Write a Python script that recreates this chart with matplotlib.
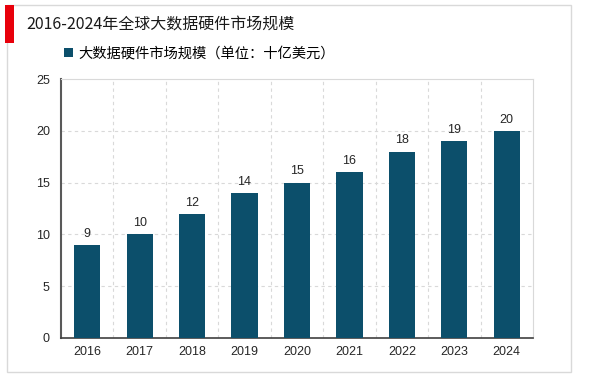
import matplotlib
matplotlib.use("Agg")
import matplotlib.pyplot as plt
from matplotlib.patches import Rectangle

plt.rcParams['font.family'] = ['Noto Sans CJK SC', 'DejaVu Sans']

years = ['2016', '2017', '2018', '2019', '2020', '2021', '2022', '2023', '2024']
values = [9, 10, 12, 14, 15, 16, 18, 19, 20]
title = '2016-2024年全球大数据硬件市场规模'
legend_label = '大数据硬件市场规模（单位：十亿美元）'
bar_color = '#0C4F6B'
num_font = ['Liberation Sans', 'DejaVu Sans']

W, H = 600, 377
fig = plt.figure(figsize=(W / 100, H / 100), dpi=100)

def fx(px):
    return px / W

def fy(py):
    return 1 - py / H

# Outer frame
fig.add_artist(Rectangle((fx(7), fy(372)), fx(571) - fx(7), fy(5) - fy(372),
                         transform=fig.transFigure, fill=False, edgecolor='#D9D9D9', lw=1))
# Red block
fig.add_artist(Rectangle((fx(5), fy(43)), fx(14) - fx(5), fy(5) - fy(43),
                         transform=fig.transFigure, facecolor='#E8000B', edgecolor='none'))
fig.text(fx(26), fy(25), title, fontsize=11.5, va='center', ha='left', color='#1a1a1a')

ax = fig.add_axes([fx(61), fy(338), fx(533) - fx(61), fy(79) - fy(338)])
x = range(len(years))
ax.bar(x, values, width=0.5, color=bar_color, zorder=3, label=legend_label)
for xi, v in zip(x, values):
    ax.text(xi, v + 0.5, str(v), ha='center', va='bottom', fontsize=9,
            color='#262626', family=num_font)

ax.set_xlim(-0.5, len(years) - 0.5)
ax.set_ylim(0, 25)
ax.set_yticks([0, 5, 10, 15, 20, 25])
ax.set_xticks(list(x))
ax.set_xticklabels(years)
ax.tick_params(axis='both', length=0, labelsize=9, colors='#262626')
ax.tick_params(axis='y', pad=8)
ax.tick_params(axis='x', pad=6)
for lbl in ax.get_xticklabels() + ax.get_yticklabels():
    lbl.set_family(num_font)

for y in [5, 10, 15, 20]:
    ax.axhline(y, color='#D9D9D9', lw=0.8, ls=(0, (3, 3)), zorder=1)
for xb in [i + 0.5 for i in range(len(years) - 1)]:
    ax.axvline(xb, color='#D9D9D9', lw=0.8, ls=(0, (3, 3)), zorder=1)

ax.spines['top'].set_color('#D9D9D9')
ax.spines['right'].set_color('#D9D9D9')
ax.spines['left'].set_color('#595959')
ax.spines['left'].set_linewidth(1.5)
ax.spines['bottom'].set_color('#404040')
ax.spines['bottom'].set_linewidth(1.2)

ax.legend(loc='lower left', bbox_to_anchor=(fx(64), fy(61)), bbox_transform=fig.transFigure,
          frameon=False, fontsize=10.3, handlelength=0.6, handleheight=0.6,
          handletextpad=0.4, borderaxespad=0, borderpad=0)

fig.savefig('out.png', dpi=100)
